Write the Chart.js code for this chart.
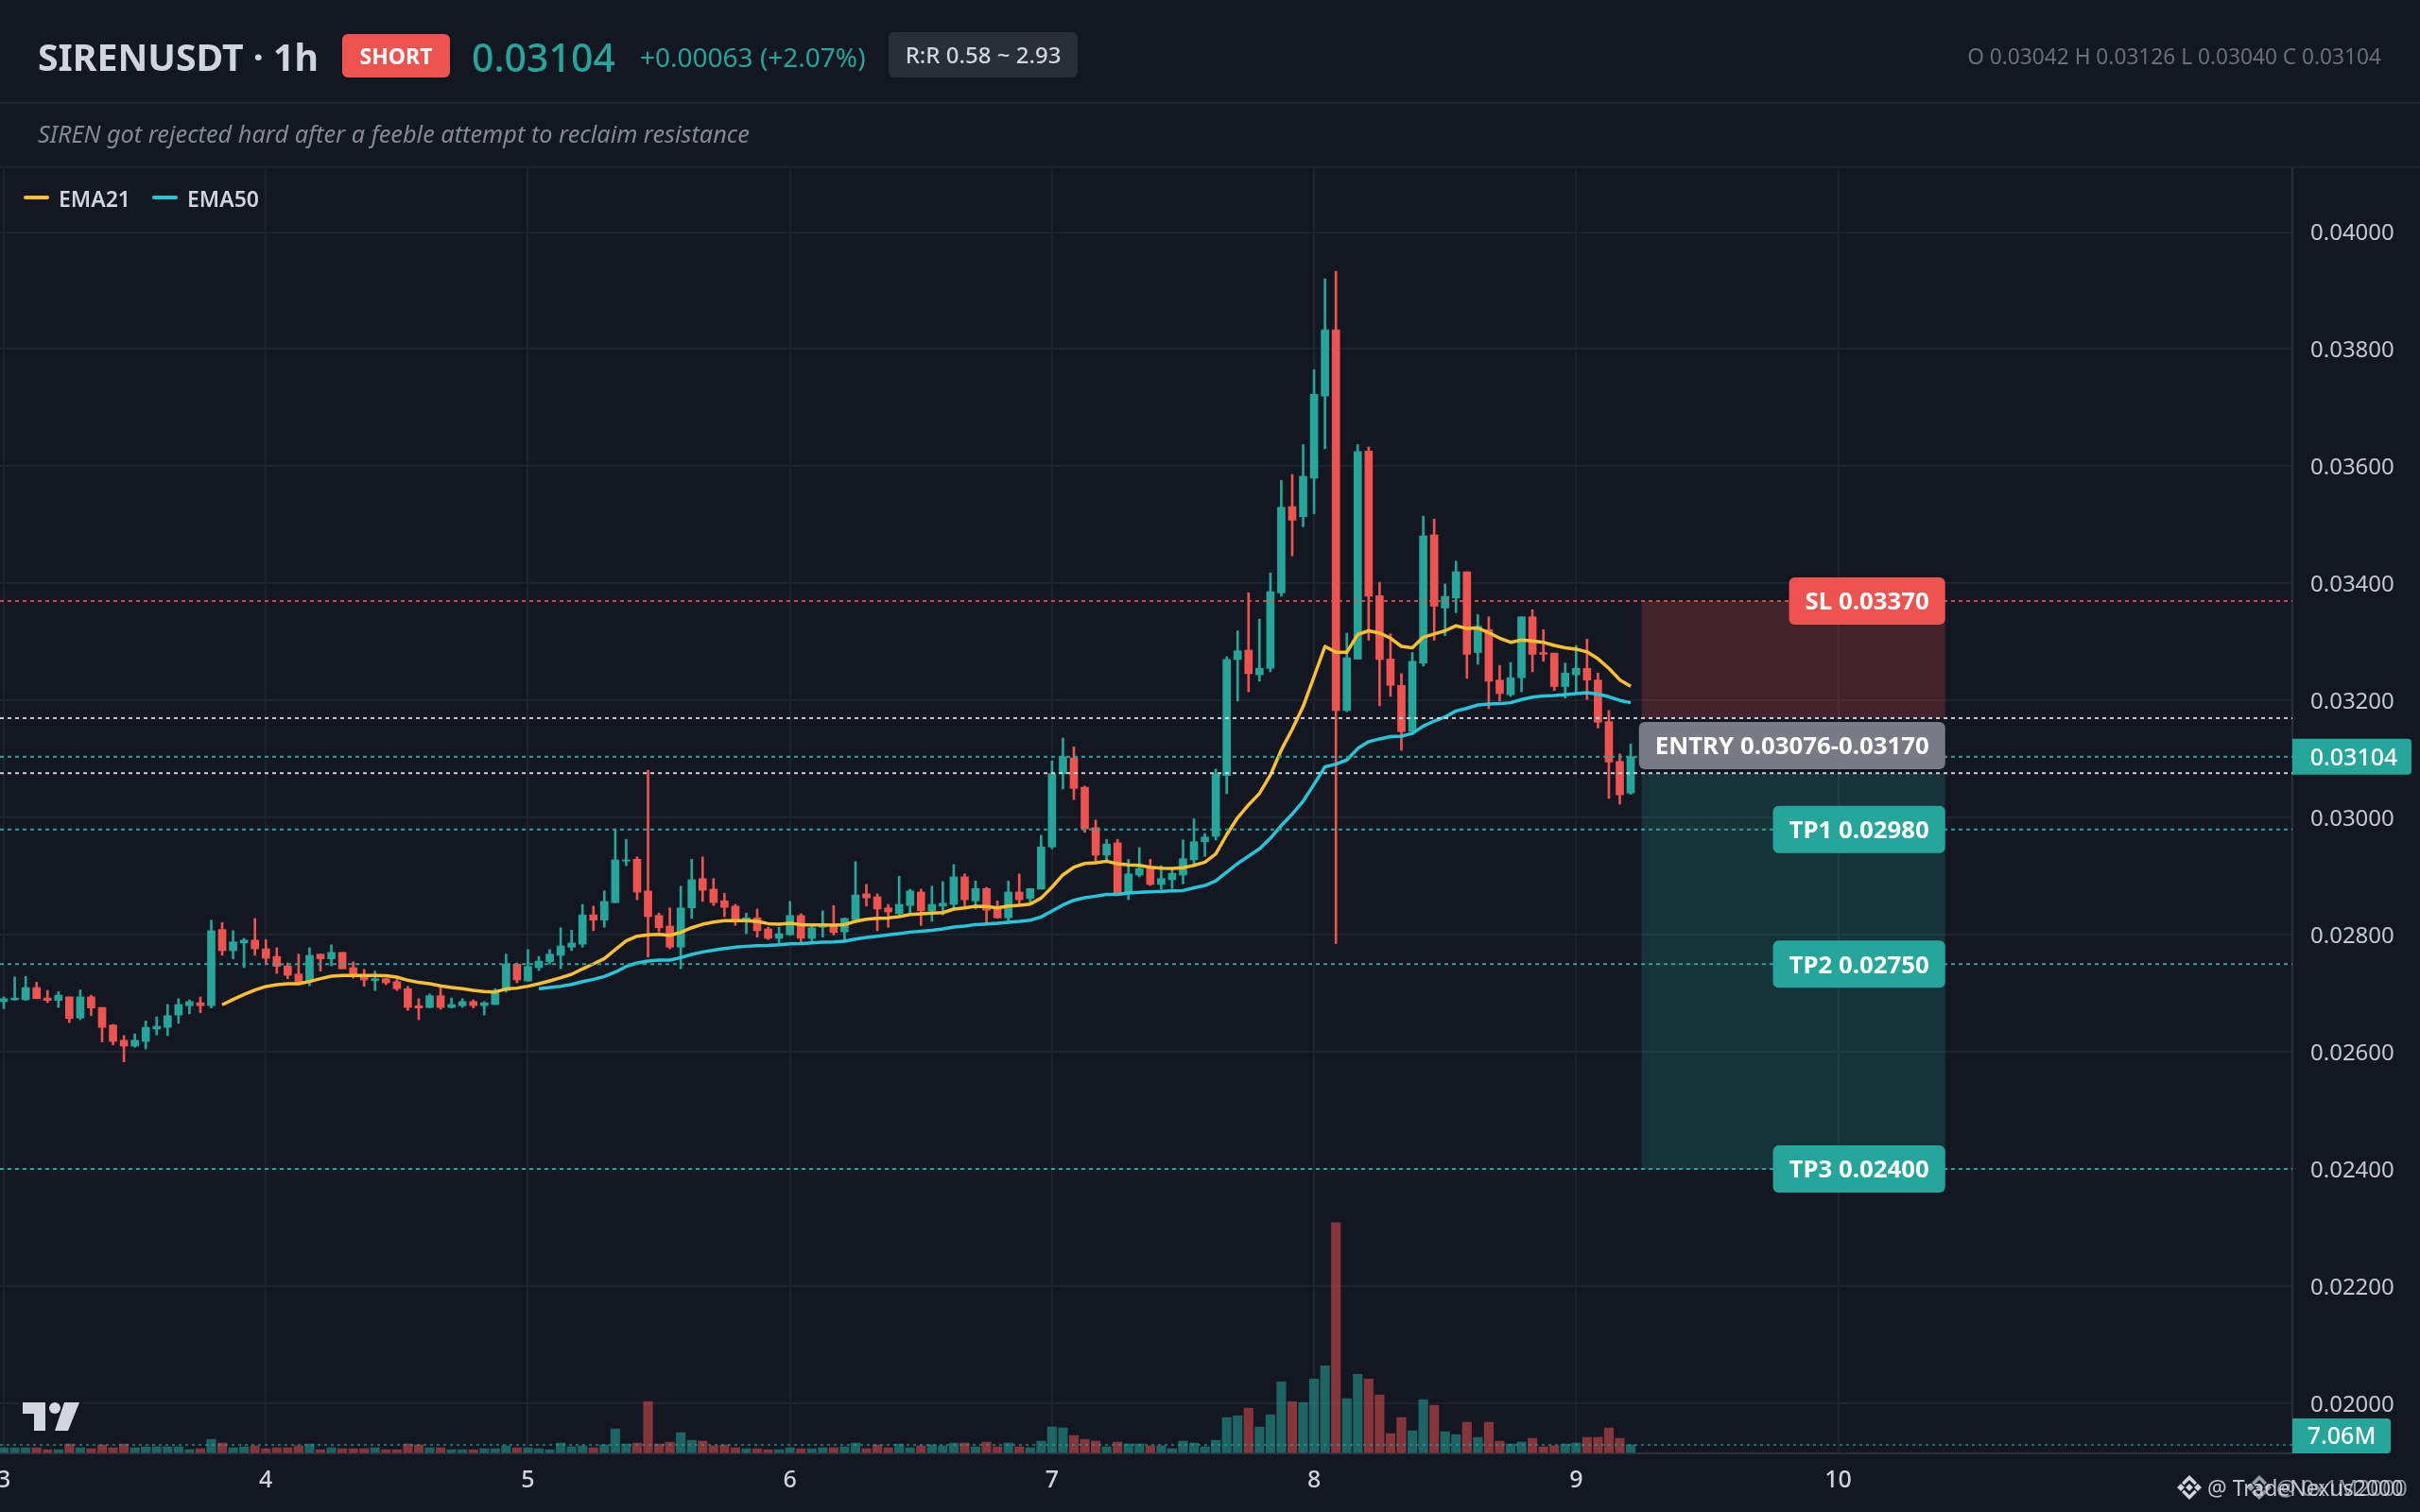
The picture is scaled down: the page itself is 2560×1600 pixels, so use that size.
<!DOCTYPE html>
<html>
<head>
<meta charset="utf-8">
<title>SIRENUSDT 1h</title>
<script src="https://cdn.jsdelivr.net/npm/chart.js@4/dist/chart.umd.min.js"></script>
<style>
    html, body { margin: 0; padding: 0; background: #131722; width: 2560px; height: 1600px; overflow: hidden; }
    body { position: relative; font-family: "Noto Sans", sans-serif; }
    #priceChart { position: absolute; left: 0; top: 0; }
    .txt { position: absolute; white-space: nowrap; line-height: 40px; height: 40px; }
    .rule { position: absolute; left: 0; width: 2560px; height: 2px; background: #1e222d; }
    .badge { position: absolute; border-radius: 6px; text-align: center; }
</style>
</head>
<body>
<canvas id="priceChart" width="2560" height="1600"></canvas>

<div class="rule" style="top:108px"></div>
<div class="rule" style="top:176px"></div>

<div class="txt" style="left:40px;top:40px;font-size:39.2px;font-weight:700;color:#d1d4dc">SIRENUSDT · 1h</div>
<div class="badge" style="left:362px;top:36px;width:114px;height:46px;line-height:46px;background:#ef5350;color:#fff;font-size:23px;font-weight:700">SHORT</div>
<div class="txt" style="left:499px;top:40px;font-size:41px;font-weight:500;color:#26a69a">0.03104</div>
<div class="txt" style="left:677px;top:40px;font-size:28px;color:#26a69a">+0.00063 (+2.07%)</div>
<div class="badge" style="left:940px;top:34px;width:200px;height:48px;line-height:48px;background:#2a2e39;color:#d1d4dc;font-size:24px;font-weight:500">R:R 0.58 ~ 2.93</div>
<div class="txt" style="right:41px;top:40px;font-size:22.7px;color:#6b6e79">O 0.03042 H 0.03126 L 0.03040 C 0.03104</div>
<div class="txt" style="left:40px;top:121px;font-size:25.3px;font-style:italic;color:#868993">SIREN got rejected hard after a feeble attempt to reclaim resistance</div>

<div style="position:absolute;left:25px;top:207px;width:27px;height:4px;border-radius:2px;background:#fbc02d"></div>
<div class="txt" style="left:62px;top:190px;font-size:23px;font-weight:600;color:#d1d4dc">EMA21</div>
<div style="position:absolute;left:161px;top:207px;width:27px;height:4px;border-radius:2px;background:#26c6da"></div>
<div class="txt" style="left:198px;top:190px;font-size:23px;font-weight:600;color:#d1d4dc">EMA50</div>

<svg style="position:absolute;left:20px;top:1480px" width="68" height="38">
    <rect x="0" y="3" width="68" height="4" fill="#131722"></rect>
    <g fill="#d5d7de" transform="translate(4,4)">
        <path d="M0 0H24V30H12V12H0Z"></path>
        <circle cx="34" cy="6" r="6"></circle>
        <path d="M44 0H60L48 30H34Z"></path>
    </g>
</svg>

<svg style="position:absolute;left:2300px;top:1558px" width="120" height="34">
    <defs>
        <g id="bnb">
            <path d="M0-4 4 0 0 4-4 0Z"></path>
            <path d="M-9-4-5 0-9 4-13 0Z"></path>
            <path d="M9-4 13 0 9 4 5 0Z"></path>
            <path d="M0-13 8-5 5.5-2.5 0-8-5.5-2.5-8-5Z"></path>
            <path d="M0 13 8 5 5.5 2.5 0 8-5.5 2.5-8 5Z"></path>
        </g>
    </defs>
    <use href="#bnb" x="16" y="16" fill="#d1d3da"></use>
    <use href="#bnb" x="90" y="16" fill="#9a9ca5"></use>
</svg>
<div class="txt" style="left:2335px;top:1554px;font-size:23px;color:rgba(215,217,224,0.9)">@ TradeNexus2000</div>
<div class="txt" style="left:2408px;top:1554px;font-size:23px;color:rgba(215,217,224,0.65)">@ 0x1M2000</div>

<script>
// hourly candles, index 0 = day 3 00:00
const opens = [
    0.02686,0.02689,0.02689,0.02710,0.02692,0.02688,0.02694,0.02658,0.02694,0.02676,
    0.02646,0.02620,0.02610,0.02618,0.02639,0.02642,0.02663,0.02679,0.02684,0.02679,
    0.02809,0.02773,0.02786,0.02791,0.02776,0.02763,0.02747,0.02733,0.02720,0.02767,
    0.02759,0.02770,0.02744,0.02728,0.02722,0.02725,0.02720,0.02708,0.02679,0.02676,
    0.02696,0.02676,0.02679,0.02686,0.02679,0.02681,0.02705,0.02750,0.02721,0.02744,
    0.02754,0.02765,0.02779,0.02784,0.02834,0.02825,0.02855,0.02926,0.02929,0.02875,
    0.02833,0.02815,0.02779,0.02846,0.02896,0.02878,0.02858,0.02849,0.02825,0.02829,
    0.02810,0.02794,0.02800,0.02833,0.02794,0.02813,0.02818,0.02805,0.02826,0.02870,
    0.02865,0.02846,0.02836,0.02850,0.02873,0.02841,0.02849,0.02852,0.02899,0.02858,
    0.02879,0.02846,0.02829,0.02873,0.02862,0.02878,0.02950,0.03075,0.03102,0.03052,
    0.02983,0.02936,0.02957,0.02871,0.02902,0.02913,0.02886,0.02894,0.02902,0.02928,
    0.02959,0.02968,0.03072,0.03270,0.03286,0.03244,0.03255,0.03384,0.03531,0.03514,
    0.03580,0.03720,0.03833,0.03183,0.03271,0.03626,0.03379,0.03271,0.03226,0.03147,
    0.03264,0.03483,0.03358,0.03375,0.03420,0.03282,0.03321,0.03235,0.03210,0.03239,
    0.03343,0.03282,0.03281,0.03224,0.03244,0.03255,0.03235,0.03164,0.03096,0.03042
];
const highs = [
    0.02694,0.02728,0.02729,0.02719,0.02705,0.02703,0.02694,0.02706,0.02697,0.02676,
    0.02647,0.02628,0.02631,0.02653,0.02660,0.02681,0.02691,0.02689,0.02694,0.02825,
    0.02821,0.02807,0.02794,0.02828,0.02792,0.02778,0.02752,0.02767,0.02778,0.02767,
    0.02783,0.02770,0.02754,0.02741,0.02738,0.02726,0.02725,0.02712,0.02691,0.02699,
    0.02712,0.02692,0.02691,0.02689,0.02686,0.02708,0.02767,0.02752,0.02775,0.02763,
    0.02775,0.02812,0.02808,0.02852,0.02849,0.02875,0.02979,0.02963,0.02933,0.03081,
    0.02837,0.02846,0.02883,0.02929,0.02933,0.02896,0.02871,0.02852,0.02837,0.02844,
    0.02813,0.02813,0.02857,0.02836,0.02815,0.02841,0.02850,0.02829,0.02925,0.02886,
    0.02870,0.02852,0.02900,0.02878,0.02878,0.02883,0.02891,0.02920,0.02904,0.02892,
    0.02881,0.02858,0.02892,0.02904,0.02879,0.02970,0.03097,0.03136,0.03121,0.03054,
    0.02996,0.02963,0.02963,0.02929,0.02949,0.02929,0.02918,0.02913,0.02962,0.02998,
    0.02973,0.03083,0.03275,0.03319,0.03384,0.03339,0.03418,0.03576,0.03586,0.03637,
    0.03765,0.03920,0.03933,0.03315,0.03637,0.03633,0.03402,0.03314,0.03246,0.03282,
    0.03515,0.03510,0.03399,0.03438,0.03420,0.03347,0.03343,0.03260,0.03265,0.03343,
    0.03355,0.03321,0.03281,0.03264,0.03294,0.03305,0.03247,0.03183,0.03109,0.03126
];
const lows = [
    0.02674,0.02688,0.02688,0.02691,0.02684,0.02676,0.02650,0.02655,0.02662,0.02617,
    0.02612,0.02583,0.02608,0.02605,0.02629,0.02628,0.02649,0.02665,0.02667,0.02675,
    0.02765,0.02759,0.02744,0.02765,0.02750,0.02734,0.02725,0.02717,0.02713,0.02738,
    0.02747,0.02742,0.02726,0.02712,0.02705,0.02715,0.02705,0.02671,0.02655,0.02675,
    0.02673,0.02675,0.02676,0.02675,0.02663,0.02681,0.02702,0.02718,0.02721,0.02739,
    0.02750,0.02742,0.02773,0.02779,0.02807,0.02813,0.02855,0.02918,0.02860,0.02762,
    0.02805,0.02776,0.02742,0.02828,0.02857,0.02850,0.02831,0.02816,0.02802,0.02796,
    0.02792,0.02786,0.02799,0.02787,0.02787,0.02796,0.02800,0.02791,0.02825,0.02849,
    0.02807,0.02813,0.02834,0.02837,0.02816,0.02823,0.02834,0.02846,0.02849,0.02844,
    0.02820,0.02828,0.02823,0.02852,0.02855,0.02878,0.02947,0.03049,0.03031,0.02975,
    0.02925,0.02926,0.02871,0.02860,0.02899,0.02884,0.02878,0.02879,0.02887,0.02920,
    0.02934,0.02962,0.03041,0.03199,0.03215,0.03233,0.03249,0.03378,0.03447,0.03497,
    0.03519,0.03630,0.02785,0.03181,0.03271,0.03303,0.03191,0.03207,0.03115,0.03143,
    0.03259,0.03303,0.03311,0.03350,0.03238,0.03262,0.03186,0.03199,0.03207,0.03215,
    0.03249,0.03267,0.03217,0.03204,0.03214,0.03202,0.03153,0.03033,0.03023,0.03040
];
const closes = [
    0.02691,0.02692,0.02710,0.02691,0.02688,0.02697,0.02657,0.02694,0.02675,0.02642,
    0.02618,0.02610,0.02620,0.02642,0.02644,0.02662,0.02681,0.02686,0.02679,0.02807,
    0.02773,0.02788,0.02791,0.02776,0.02760,0.02746,0.02731,0.02720,0.02765,0.02759,
    0.02770,0.02742,0.02731,0.02723,0.02725,0.02718,0.02708,0.02676,0.02675,0.02696,
    0.02676,0.02681,0.02686,0.02679,0.02684,0.02704,0.02750,0.02723,0.02746,0.02755,
    0.02767,0.02781,0.02786,0.02834,0.02825,0.02857,0.02928,0.02928,0.02873,0.02831,
    0.02812,0.02779,0.02846,0.02894,0.02876,0.02855,0.02847,0.02823,0.02829,0.02807,
    0.02794,0.02802,0.02833,0.02794,0.02812,0.02815,0.02804,0.02828,0.02868,0.02863,
    0.02844,0.02839,0.02852,0.02875,0.02841,0.02852,0.02854,0.02899,0.02860,0.02879,
    0.02842,0.02829,0.02873,0.02860,0.02879,0.02950,0.03075,0.03104,0.03050,0.02981,
    0.02936,0.02955,0.02871,0.02904,0.02913,0.02886,0.02896,0.02905,0.02930,0.02959,
    0.02967,0.03074,0.03270,0.03285,0.03246,0.03255,0.03386,0.03530,0.03508,0.03583,
    0.03723,0.03833,0.03183,0.03273,0.03625,0.03378,0.03270,0.03226,0.03147,0.03267,
    0.03481,0.03361,0.03378,0.03420,0.03279,0.03327,0.03233,0.03212,0.03239,0.03343,
    0.03279,0.03279,0.03224,0.03247,0.03255,0.03235,0.03163,0.03095,0.03039,0.03104
];
// volume in millions
const volumes = [
    4.4,4.4,4.4,4.4,2.6,2.6,7.9,4.4,3.5,7.1,
    4.4,7.9,4.4,5.3,5.3,5.3,5.3,2.6,3.5,12.3,
    8.8,4.4,5.3,6.2,3.5,4.4,4.4,6.2,7.9,2.6,
    4.4,3.5,3.5,3.5,4.4,2.6,2.6,7.9,7.1,4.4,
    4.4,2.6,2.6,2.6,3.5,3.5,6.2,4.4,4.4,3.5,
    2.6,8.8,5.3,6.2,4.4,7.1,22.0,7.9,8.8,47.5,
    7.9,9.7,18.5,11.4,10.6,6.2,7.1,4.4,3.5,3.5,
    2.6,2.6,4.4,3.5,3.5,4.4,4.4,5.3,8.8,3.5,
    7.1,4.4,7.9,4.4,6.2,7.1,6.2,8.8,8.8,5.3,
    9.7,5.3,8.8,5.3,4.4,10.6,23.8,22.9,15.8,12.3,
    10.6,5.3,9.7,7.9,7.9,6.2,6.2,3.5,10.6,8.8,
    5.3,11.4,32.6,34.3,41.4,23.8,35.2,66.0,47.5,46.6,
    68.6,81.0,214.7,50.2,73.0,68.6,53.7,17.6,32.6,20.2,
    49.3,44.0,19.4,16.7,28.2,14.1,28.2,10.6,7.9,9.7,
    13.2,5.3,6.2,7.9,8.8,14.1,14.1,22.9,13.2,7.06
];
const ema21Start = 20;
const ema21 = [
    0.026805,0.026896,0.026982,0.027058,0.027117,0.027149,0.027165,0.027165,0.027203,0.027251,
    0.027294,0.027305,0.027305,0.027305,0.027305,0.027300,0.027278,0.027224,0.027187,0.027165,
    0.027127,0.027101,0.027079,0.027052,0.027031,0.027025,0.027074,0.027090,0.027122,0.027165,
    0.027214,0.027267,0.027326,0.027418,0.027504,0.027595,0.027746,0.027897,0.027977,0.027998,
    0.028008,0.027992,0.028041,0.028121,0.028180,0.028218,0.028240,0.028240,0.028240,0.028229,
    0.028191,0.028180,0.028197,0.028175,0.028170,0.028170,0.028164,0.028175,0.028229,0.028266,
    0.028283,0.028288,0.028310,0.028347,0.028358,0.028369,0.028379,0.028439,0.028460,0.028487,
    0.028482,0.028460,0.028492,0.028503,0.028525,0.028627,0.028815,0.029025,0.029154,0.029218,
    0.029229,0.029256,0.029213,0.029192,0.029186,0.029154,0.029138,0.029132,0.029147,0.029186,
    0.029241,0.029382,0.029710,0.030000,0.030219,0.030414,0.030727,0.031157,0.031509,0.031900,
    0.032409,0.032925,0.032823,0.032823,0.033128,0.033191,0.033152,0.033066,0.032925,0.032901,
    0.033081,0.033136,0.033191,0.033277,0.033230,0.033238,0.033159,0.033066,0.032995,0.033034,
    0.033019,0.032995,0.032941,0.032901,0.032878,0.032831,0.032714,0.032549,0.032354,0.032244
];
const ema50Start = 49;
const ema50 = [
    0.027079,0.027101,0.027122,0.027153,0.027202,0.027239,0.027288,0.027363,0.027460,0.027519,
    0.027551,0.027567,0.027567,0.027610,0.027664,0.027707,0.027739,0.027766,0.027788,0.027804,
    0.027815,0.027820,0.027831,0.027847,0.027852,0.027863,0.027874,0.027879,0.027890,0.027928,
    0.027955,0.027976,0.027998,0.028019,0.028046,0.028062,0.028078,0.028100,0.028132,0.028148,
    0.028175,0.028186,0.028197,0.028213,0.028229,0.028250,0.028304,0.028406,0.028509,0.028589,
    0.028632,0.028659,0.028691,0.028691,0.028713,0.028724,0.028734,0.028740,0.028751,0.028756,
    0.028803,0.028842,0.028920,0.029069,0.029218,0.029343,0.029468,0.029648,0.029867,0.030062,
    0.030281,0.030571,0.030868,0.030915,0.030985,0.031181,0.031298,0.031345,0.031384,0.031392,
    0.031439,0.031564,0.031650,0.031720,0.031822,0.031869,0.031924,0.031939,0.031947,0.031963,
    0.032018,0.032057,0.032080,0.032088,0.032104,0.032119,0.032135,0.032111,0.032065,0.032002,
    0.031963
];

const dayLabels = ['3', '4', '5', '6', '7', '8', '9', '10'];
const priceTicks = [0.04, 0.038, 0.036, 0.034, 0.032, 0.03, 0.028, 0.026, 0.024, 0.022, 0.02];

const lastPrice = 0.03104;
const lastVolume = 7.06;
const slLevel = 0.0337;
const entryLevels = [0.03076, 0.0317];
const tpLevels = [0.0298, 0.0275, 0.024];
const tpNames = ['TP1 0.02980', 'TP2 0.02750', 'TP3 0.02400'];

// axis windows, picked so the pane lines up with the picture
const xMin = -0.35, xMax = 209.6;
const priceMin = 0.019145, priceMax = 0.04109;
const volMin = -0.88, volMax = 1199.4;
const zoneStart = 150, zoneEnd = 177.8; // bars covered by the trade box

const BG = '#131722', UP = '#26a69a', DOWN = '#ef5350';
const FONT = '"Noto Sans", sans-serif';

const idx = opens.map((_, i) => i);
const isUp = idx.map(i => closes[i] >= opens[i]);
const candleColors = isUp.map(u => u ? UP : DOWN);

// Helper for the flat dashed lines across the pane
const levelLine = (value, color, axis, dash) => ({
    type: 'line',
    yAxisID: axis || 'y',
    data: [{x: xMin, y: value}, {x: xMax, y: value}],
    borderColor: color,
    borderWidth: 2,
    borderDash: dash || [4, 4],
    pointRadius: 0,
    order: 1
});

const emaLine = (values, start, color) => ({
    type: 'line',
    data: values.map((v, i) => ({x: start + i, y: v})),
    borderColor: color,
    borderWidth: 3.5,
    tension: 0,
    pointRadius: 0,
    borderJoinStyle: 'round',
    order: 2
});

const datasets = [
    {
        // volume sits behind everything
        yAxisID: 'vol',
        data: idx.map(i => ({x: i, y: volumes[i]})),
        backgroundColor: isUp.map(u => u ? 'rgba(38,166,154,0.55)' : 'rgba(239,83,80,0.52)'),
        barThickness: 9.5,
        grouped: false,
        order: 6
    },
    {
        // wicks
        data: idx.map(i => ({x: i, y: [lows[i], highs[i]]})),
        backgroundColor: candleColors,
        barThickness: 2,
        grouped: false,
        order: 5
    },
    {
        // bodies
        data: idx.map(i => ({x: i, y: [opens[i], closes[i]]})),
        backgroundColor: candleColors,
        barThickness: 8,
        minBarLength: 1,
        grouped: false,
        order: 4
    },
    emaLine(ema21, ema21Start, '#fbc02d'),
    emaLine(ema50, ema50Start, '#26c6da'),
    levelLine(slLevel, 'rgba(239,83,80,0.85)'),
    levelLine(entryLevels[0], 'rgba(225,227,235,0.9)'),
    levelLine(entryLevels[1], 'rgba(225,227,235,0.9)'),
    levelLine(lastPrice, UP),
    levelLine(tpLevels[0], UP),
    levelLine(tpLevels[1], UP),
    levelLine(tpLevels[2], UP),
    levelLine(lastVolume, 'rgba(38,166,154,0.6)', 'vol', [3, 4])
];

const roundBox = (ctx, x, y, w, h, r, fill) => {
    ctx.fillStyle = fill;
    ctx.beginPath();
    ctx.roundRect(x, y, w, h, r);
    ctx.fill();
};

// Trade box and the tags; all positions come from the chart's scales
const tradePlugin = {
    id: 'trade',
    beforeDatasetsDraw(chart) {
        const {ctx, scales: {x, y}} = chart;
        const left = x.getPixelForValue(zoneStart), right = x.getPixelForValue(zoneEnd);
        ctx.save();
        ctx.fillStyle = 'rgba(239,83,80,0.22)';
        ctx.fillRect(left, y.getPixelForValue(slLevel), right - left, y.getPixelForValue(entryLevels[1]) - y.getPixelForValue(slLevel));
        ctx.fillStyle = 'rgba(38,166,154,0.2)';
        ctx.fillRect(left, y.getPixelForValue(entryLevels[0]), right - left, y.getPixelForValue(tpLevels[2]) - y.getPixelForValue(entryLevels[0]));
        ctx.restore();
    },
    afterDraw(chart) {
        const {ctx, scales: {x, y}} = chart;
        const right = x.getPixelForValue(zoneEnd);
        const axisLeft = chart.chartArea.right;
        ctx.save();
        ctx.textBaseline = 'middle';

        const tag = (text, value, fill) => {
            ctx.font = '700 25.8px ' + FONT;
            const w = ctx.measureText(text).width + 34;
            const cy = y.getPixelForValue(value);
            roundBox(ctx, right - w, cy - 25, w, 50, 6, fill);
            ctx.fillStyle = '#ffffff';
            ctx.textAlign = 'right';
            ctx.fillText(text, right - 17, cy + 2);
        };
        tag('SL ' + slLevel.toFixed(5), slLevel, DOWN);
        tag('ENTRY ' + entryLevels[0].toFixed(5) + '-' + entryLevels[1].toFixed(5), (entryLevels[0] + entryLevels[1]) / 2, '#787b86');
        tpNames.forEach((name, n) => tag(name, tpLevels[n], UP));

        // last price and volume on the axis
        const py = y.getPixelForValue(lastPrice);
        roundBox(ctx, axisLeft, py - 19, 126, 38, [0, 4, 4, 0], UP);
        ctx.fillStyle = '#ffffff';
        ctx.textAlign = 'center';
        ctx.font = '500 25px ' + FONT;
        ctx.fillText(lastPrice.toFixed(5), axisLeft + 65, py + 2);

        roundBox(ctx, axisLeft, 1501, 104, 37, [0, 4, 4, 0], UP);
        ctx.fillStyle = '#ffffff';
        ctx.fillText(lastVolume.toFixed(2) + 'M', axisLeft + 52, 1521);
        ctx.restore();
    }
};

Chart.defaults.font.family = FONT;

new Chart(document.getElementById('priceChart').getContext('2d'), {
    type: 'bar',
    data: {datasets: datasets},
    plugins: [tradePlugin],
    options: {
        responsive: false,
        animation: false,
        devicePixelRatio: 1,
        events: [],
        layout: {padding: {top: 178, left: 0, right: 0, bottom: 0}},
        plugins: {legend: {display: false}, tooltip: {enabled: false}, title: {display: false}},
        scales: {
            x: {
                type: 'linear',
                offset: false,
                min: xMin,
                max: xMax,
                afterBuildTicks: axis => { axis.ticks = dayLabels.map((_, n) => ({value: n * 24})); },
                afterFit: axis => { axis.height = 62; axis.paddingLeft = 0; axis.paddingRight = 0; },
                ticks: {
                    autoSkip: false,
                    maxRotation: 0,
                    padding: 14,
                    color: '#d1d4dc',
                    font: {size: 25, weight: '500'},
                    callback: v => dayLabels[v / 24]
                },
                grid: {color: '#1e222d', lineWidth: 2, offset: false, drawTicks: false},
                border: {display: true, color: '#2a2e39', width: 2}
            },
            y: {
                position: 'right',
                min: priceMin,
                max: priceMax,
                beginAtZero: false,
                afterBuildTicks: axis => { axis.ticks = priceTicks.map(v => ({value: v})); },
                afterFit: axis => { axis.width = 135; axis.paddingTop = 0; axis.paddingBottom = 0; },
                ticks: {
                    padding: 19,
                    labelOffset: 2,
                    color: '#c5c7cf',
                    font: {size: 24},
                    callback: v => v.toFixed(5)
                },
                grid: {color: '#1e222d', lineWidth: 2, drawTicks: false},
                border: {display: true, color: '#2a2e39', width: 2}
            },
            vol: {
                display: false,
                position: 'left',
                min: volMin,
                max: volMax,
                grid: {display: false}
            }
        }
    }
});
</script>
</body>
</html>
